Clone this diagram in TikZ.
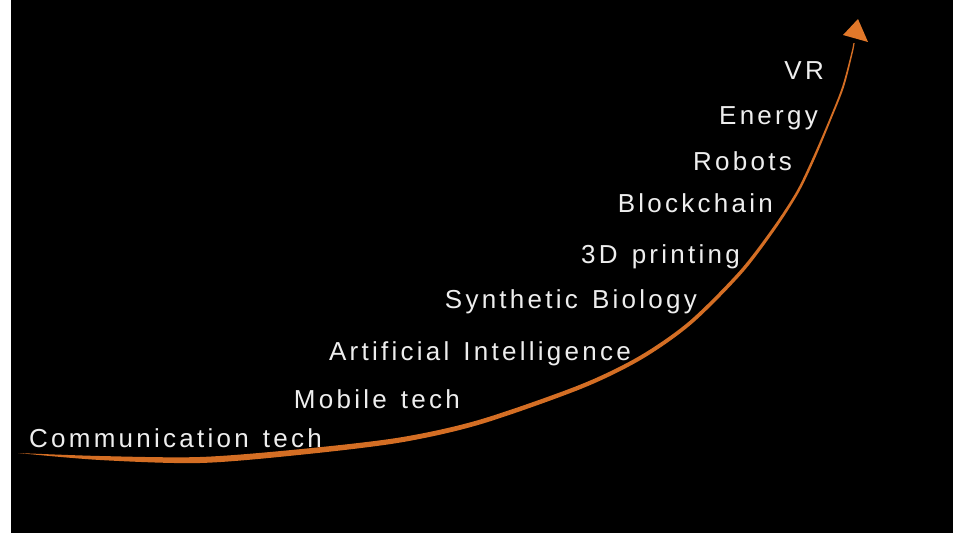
\documentclass[tikz,border=0pt]{standalone}
\usepackage{fontspec}
\newfontfamily\trendfont{Liberation Sans}[LetterSpace=12.5,WordSpace=1.35]
\definecolor{curveorange}{RGB}{212,110,36}
\definecolor{headorange}{RGB}{226,120,42}
\definecolor{labelwhite}{RGB}{238,238,238}
\begin{document}
\begin{tikzpicture}
  [x=1pt,y=-1pt,
   trendlabel/.style={text=labelwhite,inner sep=0pt,anchor=base east,
     font=\trendfont\fontsize{26}{30}\selectfont}]
  \useasboundingbox (0,0) rectangle (961,533);
  \fill [black] (11,0) rectangle (953,533);
  % the growth curve, thick at the bottom and thin towards the top
  \coordinate (start) at (18,453);
  \coordinate (tip) at (854,43);
  \fill [curveorange] plot [smooth] coordinates {(start) (100,456) (200,457)
      (299.7,449.2) (399.6,437.5) (479.3,419.8) (579.1,385.1) (639,356.3)
      (688.8,321.6) (738.7,271.9) (771.8,229.1) (795.9,192.4) (811.9,159.5)
      (829.1,119.7) (842.1,86.7) (851.3,52.9) (853.4,43)}
    -- plot [smooth] coordinates {(854.6,43) (852.7,53.1) (843.9,87.3)
      (830.9,120.3) (814.1,160.5) (798.1,193.6) (774.2,230.9) (741.3,274.1)
      (691.2,324.4) (641,359.7) (580.9,388.9) (480.7,424.2) (400.4,442.5)
      (300.3,454.8) (200,463) (100,460) (start)} -- cycle;
  \fill [headorange] (843,35) -- (858,19) -- (868,42) -- cycle;
  \node at (322,447) (commtech) [trendlabel] {Communication tech};
  \node at (460,408) (mobiletech) [trendlabel] {Mobile tech};
  \node at (631,360) (ai) [trendlabel] {Artificial Intelligence};
  \node at (697,308) (synbio) [trendlabel] {Synthetic Biology};
  \node at (740,263) (printing) [trendlabel] {3D printing};
  \node at (773,212) (blockchain) [trendlabel] {Blockchain};
  \node at (792,170) (robots) [trendlabel] {Robots};
  \node at (818,124) (energy) [trendlabel] {Energy};
  \node at (824,79) (vr) [trendlabel] {VR};
\end{tikzpicture}
\end{document}
